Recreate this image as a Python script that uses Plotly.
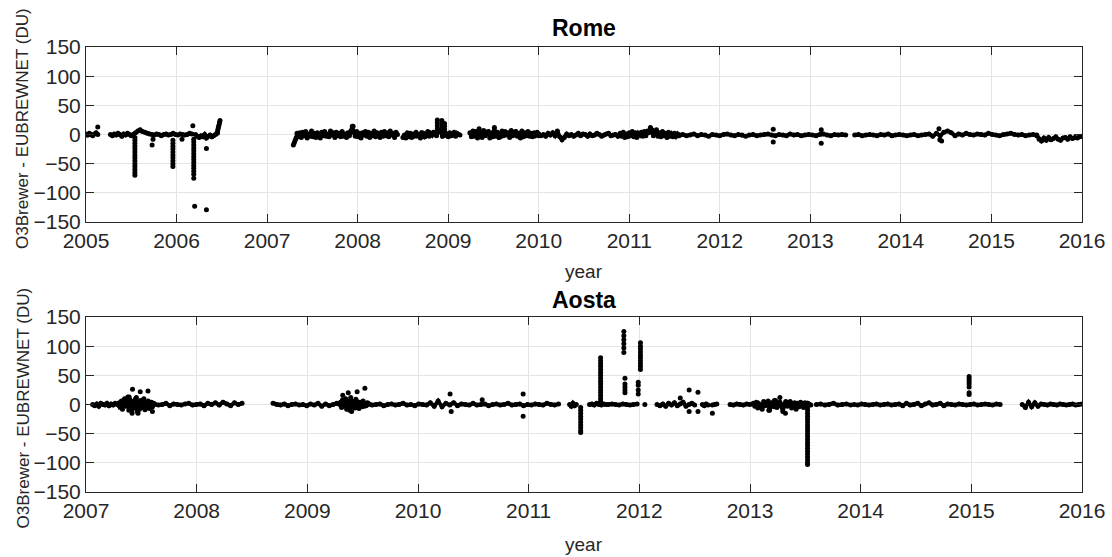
import numpy as np
import plotly.graph_objects as go

# ---------------- Rome: O3 Brewer minus EUBREWNET (DU) ----------------
# continuous observation runs: start year, end year and the sampled differences
rome_seg_start = [2005.00, 2005.27, 2005.52, 2006.21, 2006.45, 2007.29, 2007.33,
                  2008.50, 2009.24, 2010.00, 2010.90, 2011.55, 2013.49, 2015.50]
rome_seg_end = [2005.13, 2005.50, 2006.17, 2006.45, 2006.48, 2007.33, 2008.44,
                2009.13, 2010.00, 2010.90, 2011.55, 2013.39, 2015.50, 2016.00]
rome_seg_vals = [
    [1, -1, 2, 0, -2, 1, 3, 0],
    [0, -2, 1, -1, 2, 0, -3, 1, -1, 2, 0, -2],
    [0, 3, 6, 8, 5, 4, 2, 1, 0, -1, 1, 0, -2, 0, 1, -1, 0, 2, 0, -1, 1, 0, -1, 0, 2, 1],
    [0, -3, -5, -2, -4, 0, -6, -3, -1, -4, -2, 0, 2],
    [4, 8, 12, 16, 20, 24],
    [-18, -14, -10, -6, -3],
    [2, -4, 3, -5, 4, -2, 5, -6, 1, -3, 6, -4, 2, -5, 3, 0, -6, 4, -2, 5,
     -3, 1, -4, 6, -1, 3, -5, 4, -2, 2, -4, 5, -3, 1, -5, 3, -2, 6, 14, 4,
     -3, 5, -4, 2, -6, 3, -1, 5, -3, 4, -5, 2, -2, 6, -4, 3, -1, -5, 4, -3,
     5, -2, 3, -4, 6, -1, 2, -5, 4, 0],
    [-5, -1, -6, 3, -4, 2, -5, 1, -3, 4, -2, 0, -6, 3, 2, -4, -2, 5, -3, 2,
     -1, 4, 3, -2, 8, 5, 4, -3, -2, 3, 0, -4, 3, -2, -1, 4, -3, 2, 0, -1],
    [3, -4, 6, -3, 5, -6, 10, 2, -5, 7, -2, 4, 5, -6, 3, -4, 12, -3, 4, -5,
     -4, 6, -2, 5, -1, 3, -5, 7, -2, 4, 5, -3, 2, -6, 6, -4, 3, -2, 5, -3,
     2, -4, 3, -1, 4, -2],
    [1, -2, 0, -3, 2, -1, 3, -2, 6, -4, -9, -5, 1, -2, 0, -3, -1, 2, -2, 1,
     0, -3, 1, -2, -1, 2, 0, -3, -1, 1, 2, -2, -1, 0, -3, 1],
    [2, -3, 4, -5, 1, -4, 3, -2, 5, -4, 3, -5, 2, -1, 4, -3, 5, -2, 6, 3,
     12, 8, -2, 4, 8, -3, 3, -4, 5, -2, 2, -5, 4, -3, 1, -4, 2, -3, 1, -2],
    [-1, 0, -2, -1, 1, -2, 0, -1, -3, 0, -1, -2, 0, 1, -1, -2, 0, -1, -3, -1, 0, -2, -1,
     0, 1, -1, -2, 0, -1, -2, 1, -1, 0, -2, -1, 0, -1, -2, 0, 1, -1, -2, 0, -1, 0, -1],
    [-1, 0, -2, -1, 0, -1, -2, 0, -1, 1, -2, -1, 0, -1, -2, -1, 0, -2, -1, 0, 1, -3, 2,
     -2, 4, 6, 3, -2, 1, -1, 2, 0, -1, 1, 0, -1, 2, 0, -1, -2, 0, 1, 2, 0, -1, 0, -2, -1,
     0, -1],
    [-2, -8, -11, -6, -10, -5, -9, -7, -4, -8, -10, -6, -5, -8, -4, -7, -5, -6, -4, -3],
]
# days with a run of large deviations (all at the same date)
rome_spike_x = [2005.54, 2005.96, 2006.19, 2008.88, 2008.93, 2008.96]
rome_spike_vals = [
    [-5, -10, -15, -20, -25, -30, -35, -40, -45, -50, -55, -60, -65, -70],
    [-10, -15, -20, -25, -30, -35, -40, -45, -50, -55],
    [-8, -13, -18, -23, -28, -33, -38, -43, -48, -53, -58, -63, -68, -75],
    [5, 10, 15, 20, 25],
    [5, 12, 18, 24],
    [4, 9, 14, 19],
]
# isolated measurements
rome_pts_x = [2005.13, 2005.73, 2005.74, 2006.06, 2006.18, 2006.20, 2006.33, 2006.33,
              2007.95, 2012.59, 2012.59, 2013.12, 2013.12, 2014.42, 2014.43, 2014.45]
rome_pts_y = [13, -18, -8, -8, 15, -123, -129, -24,
              14, 9, -13, 8, -15, 10, -9, -11]

# ---------------- Aosta ----------------
aosta_seg_start = [2007.06, 2007.30, 2007.62, 2008.69, 2009.30, 2009.55, 2011.37,
                   2011.55, 2011.72, 2012.16, 2012.57, 2012.66, 2012.82, 2013.03,
                   2013.60, 2013.94, 2015.46]
aosta_seg_end = [2007.30, 2007.62, 2008.41, 2009.30, 2009.55, 2011.27, 2011.43,
                 2011.70, 2011.98, 2012.50, 2012.62, 2012.70, 2013.00, 2013.55,
                 2013.91, 2015.26, 2016.00]
aosta_seg_vals = [
    [0, -2, 1, -3, 2, 0, -1, 2, -2, 1, -1, 2, 0, -2],
    [3, -5, 6, -8, 2, 10, -3, 5, 13, -10, 8, -4, -15, 5, -6, 9, 12, -12,
     4, -8, 7, 2, -5, 10, -9, 3, -3, 6, -7, 1, 4, -4, 2, 0],
    [1, -1, 0, 2, -2, 1, 0, -1, 1, 2, -1, 0, 1, -2, 2, 0, 3, -1, 4, 1, -2, 3, 0, 2],
    [2, 0, -1, 1, -2, 0, 1, -1, 0, -2, 1, -1, 2, -3, 1, -2, 0, 2, -1],
    [4, -5, 8, -3, 2, 10, -8, 6, -2, -10, 12, -4, 5, 3, -6, 9, 5, -2,
     -7, 4, 2, -4, 6, -3, 1, -2, 3, 0],
    [2, -1, 0, 1, -2, 0, 1, -1, 0, 2, -1, 0, -2, 1, 0, -1, 3, -3, 6, -4, 2, -1, 3, -2,
     1, 0, -1, 2, -1, 0, 1, -2, 0, 1, -1, 0, 2, -1, 0, 1, -2, 0, -1, 1, 0, -1, 2, 0, -1, 1],
    [0, -3, 2, -2, 0],
    [0, 1, -1, 2, 0, -1, 1, 0],
    [0, 1, 0, -1, 1, 0, -1, 0, 1],
    [0, -2, 1, -3, 2, -1, 3, -2, 1, 4, -3, 0, 2, -1],
    [0, -2, 1, -1],
    [-1, 0, 1],
    [0, -1, 1, 0, -1, 1, 0],
    [2, -3, 4, -6, 1, -2, -8, 5, -2, 3, 6, -10, 3, -1, -4, 7, -5, 2, 4, -3,
     -12, 1, 5, -3, 2, 5, -6, -1, 3, -8, 2, -4, 4, 1, -5, 3, -2, 2, 0, -1],
    [0, 1, -1, 0, 2, -1, 0, 1, -1],
    [0, -1, 1, 0, -1, 0, 1, -1, 0, 1, -1, 0, 1, -2, 2, -1, 0, 2, -2, 1, 3, -1, 0, 2, -2,
     1, 0, -1, 1, 0, -1, 0, 1, -1, 0, 1, 0, -1, 1, 0],
    [0, -5, 4, -4, 3, -3, 1, 0, -1, 1, 0, -1, 1, 0, -1, 0, 1, -1, 0, 1],
]
aosta_spike_x = [2011.47, 2011.65, 2011.86, 2011.87, 2012.01, 2011.99, 2013.52, 2014.98]
aosta_spike_vals = [
    [-5, -10, -15, -20, -25, -30, -35, -40, -45, -48],
    [5, 10, 15, 20, 25, 30, 35, 40, 45, 50, 55, 60, 65, 70, 75, 80],
    [125, 118, 111, 104, 97, 89],
    [45, 35, 30, 25, 20],
    [106, 100, 95, 90, 85, 80, 75, 70, 65, 60],
    [38, 33, 25, 18],
    [-5, -10, -15, -20, -25, -30, -35, -40, -45, -50, -55, -60, -65, -70, -75, -80, -85,
     -90, -95, -100, -103],
    [17, 20, 30, 35, 40, 44, 48],
]
aosta_pts_x = [2007.39, 2007.42, 2007.47, 2007.49, 2007.56, 2007.60, 2009.32, 2009.37,
               2009.40, 2009.45, 2009.52, 2010.29, 2010.30, 2010.58, 2010.95, 2010.95,
               2012.05, 2012.37, 2012.45, 2012.45, 2012.53, 2012.53, 2012.66, 2013.17,
               2013.22, 2013.27, 2013.32]
aosta_pts_y = [13, 26, -15, 22, 23, -12, 16, 20,
               -12, 22, 28, 18, -12, 8, 18, -20,
               0, 11, 25, -12, 21, -12, -15, -10,
               7, 12, -15]


def runs(seg_start, seg_end, seg_vals):
    """Place each run's samples evenly over its time span; None breaks runs."""
    xs, ys = [], []
    for s, e, v in zip(seg_start, seg_end, seg_vals):
        xs.extend(np.linspace(s, e, len(v)).tolist() + [None])
        ys.extend(list(v) + [None])
    return xs, ys


def singles(spike_x, spike_vals, pts_x, pts_y):
    xs, ys = [], []
    for sx, sv in zip(spike_x, spike_vals):
        xs.extend([sx] * len(sv))
        ys.extend(sv)
    xs.extend(pts_x)
    ys.extend(pts_y)
    return xs, ys


FONT = "Liberation Sans, Arial, sans-serif"
AX = "#262626"
GRID = "#e4e4e4"
marker = dict(color="black", size=5, line=dict(width=0))

fig = go.Figure()
panels = [
    ("x", "y", runs(rome_seg_start, rome_seg_end, rome_seg_vals),
     singles(rome_spike_x, rome_spike_vals, rome_pts_x, rome_pts_y)),
    ("x2", "y2", runs(aosta_seg_start, aosta_seg_end, aosta_seg_vals),
     singles(aosta_spike_x, aosta_spike_vals, aosta_pts_x, aosta_pts_y)),
]
for xa, ya, (rx, ry), (sx, sy) in panels:
    # dense daily runs render as a continuous ribbon
    fig.add_trace(go.Scatter(x=rx, y=ry, mode="lines+markers", marker=marker,
                             line=dict(color="black", width=4),
                             connectgaps=False, xaxis=xa, yaxis=ya, showlegend=False))
    fig.add_trace(go.Scatter(x=sx, y=sy, mode="markers", marker=marker,
                             xaxis=xa, yaxis=ya, showlegend=False))


def xax(rng, anchor):
    return dict(range=rng, tickvals=list(range(rng[0], rng[1] + 1)),
                ticktext=[str(v) for v in range(rng[0], rng[1] + 1)],
                anchor=anchor, domain=[0, 1], automargin=False,
                showline=True, linecolor=AX, linewidth=1, mirror="ticks",
                ticks="inside", ticklen=8, tickcolor=AX,
                showgrid=True, gridcolor=GRID, zeroline=False,
                tickfont=dict(family=FONT, size=21, color=AX))


def yax(dom, anchor):
    return dict(range=[-150, 150], tickvals=[-150, -100, -50, 0, 50, 100, 150],
                anchor=anchor, domain=dom, automargin=False,
                showline=True, linecolor=AX, linewidth=1, mirror="ticks",
                ticks="inside", ticklen=8, tickcolor=AX,
                showgrid=True, gridcolor=GRID, zeroline=False,
                tickfont=dict(family=FONT, size=21, color=AX))


def label(text, x, y, size, color, angle=0, bold=False):
    return dict(text=f"<b>{text}</b>" if bold else text, x=x, y=y,
                xref="paper", yref="paper", xanchor="center", yanchor="middle",
                textangle=angle, showarrow=False,
                font=dict(family=FONT, size=size, color=color))


YTITLE = "O3Brewer - EUBREWNET (DU)"
fig.update_layout(
    width=1112, height=557,
    margin=dict(l=86, r=30, t=47, b=65, autoexpand=False),
    paper_bgcolor="white", plot_bgcolor="white",
    xaxis=xax([2005, 2016], "y"),
    yaxis=yax([0.6067, 1.0], "x"),
    xaxis2=xax([2007, 2016], "y2"),
    yaxis2=yax([0.0, 0.3933], "x2"),
    annotations=[
        label("Rome", 0.5, 1.043, 23, "black", bold=True),
        label("Aosta", 0.5, 0.432, 23, "black", bold=True),
        label("year", 0.5, 0.4944, 19, AX),
        label("year", 0.5, -0.119, 19, AX),
        label(YTITLE, -0.0633, 0.818, 17, AX, angle=-90),
        label(YTITLE, -0.0633, 0.19, 17, AX, angle=-90),
    ],
)

fig.write_html("out.html")
